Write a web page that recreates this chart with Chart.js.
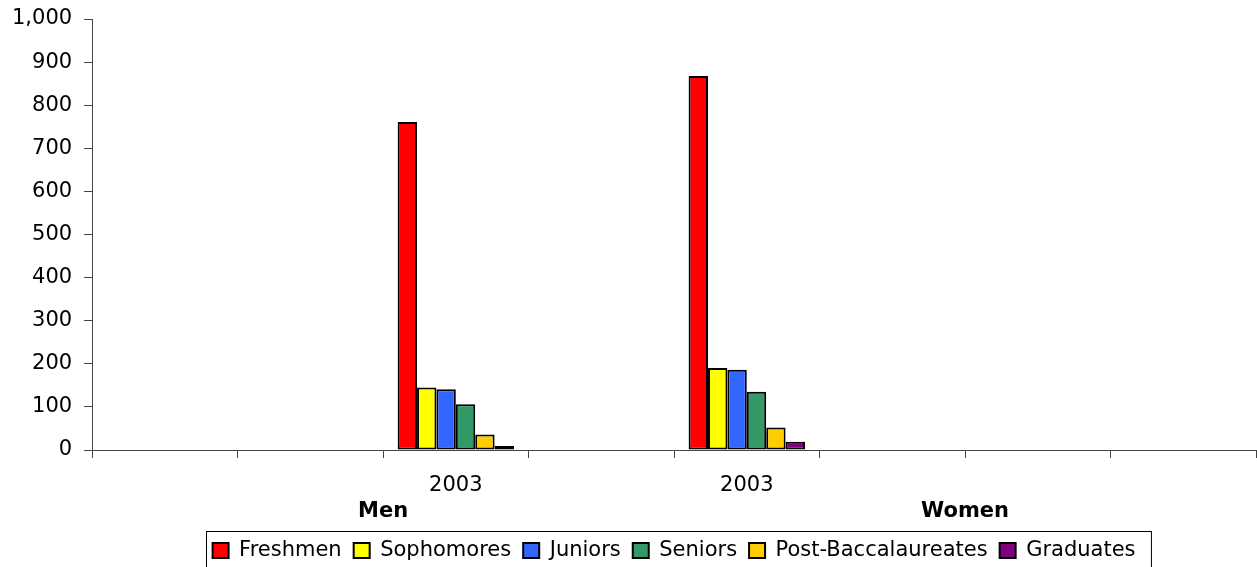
<!DOCTYPE html>
<html>
<head>
<meta charset="utf-8">
<script src="https://cdn.jsdelivr.net/npm/chart.js@4"></script>
<style>
  html, body { margin: 0; padding: 0; background: #fff; }
  #wrap { width: 1257px; height: 567px; }
</style>
</head>
<body>
<div id="wrap"><canvas id="myChart"></canvas></div>
<script>
// eight slots: four under Men, four under Women; only 2003 has data
const categories = ['', '', '2003', '', '2003', '', '', ''];
const groups = ['Men', 'Women'];
const yTicks = [0, 100, 200, 300, 400, 500, 600, 700, 800, 900, 1000];

const freshmen   = [null, null, 761, null, 868, null, null, null];
const sophomores = [null, null, 145, null, 190, null, null, null];
const juniors    = [null, null, 141, null, 186, null, null, null];
const seniors    = [null, null, 106, null, 135, null, null, null];
const postBacc   = [null, null, 36,  null, 52,  null, null, null];
const graduates  = [null, null, 9,   null, 19,  null, null, null];

const FONT = '"DejaVu Sans", "Liberation Sans", Arial, sans-serif';

// legend sits centred under the plot area, in a thin box cut by the bottom edge
const legendBox = {
  id: 'legendBox',
  afterLayout(chart) {
    const lg = chart.legend;
    const a = chart.chartArea;
    const shift = (a.left + a.right) / 2 - (lg.left + lg.right) / 2;
    lg.left += shift;
    lg.right += shift;
    lg.top += 4;
    lg.bottom += 4;
  },
  afterDraw(chart) {
    const hb = chart.legend.legendHitBoxes;
    if (!hb || !hb.length) return;
    let l = Infinity, r = -Infinity, t = Infinity;
    hb.forEach(h => {
      l = Math.min(l, h.left); r = Math.max(r, h.left + h.width);
      t = Math.min(t, h.top);
    });
    const c = chart.ctx;
    c.save();
    c.strokeStyle = '#000';
    c.lineWidth = 1;
    c.strokeRect(Math.round(l) - 6.5, Math.round(t) - 8.5, (r - l) + 22, 60);
    c.restore();
  }
};

const ctx = document.getElementById('myChart').getContext('2d');

const mk = (label, data, color) => ({
  label, data,
  backgroundColor: color,
  borderColor: '#000',
  borderWidth: 2,
  borderSkipped: false,
  categoryPercentage: 0.8,
  barPercentage: 1.0
});

const myChart = new Chart(ctx, {
  type: 'bar',
  data: {
    labels: categories,
    datasets: [
      mk('Freshmen', freshmen, '#FF0000'),
      mk('Sophomores', sophomores, '#FFFF00'),
      mk('Juniors', juniors, '#3366FF'),
      mk('Seniors', seniors, '#339966'),
      mk('Post-Baccalaureates', postBacc, '#FFCC00'),
      mk('Graduates', graduates, '#800080')
    ]
  },
  plugins: [legendBox],
  options: {
    responsive: true,
    maintainAspectRatio: false,
    animation: false,
    layout: { padding: { top: 0, right: 1, left: 0, bottom: 0 } },
    scales: {
      y: {
        min: 0,
        max: 1000,
        afterBuildTicks: axis => { axis.ticks = yTicks.map(v => ({ value: v })); },
        afterFit: axis => { axis.paddingTop = 19; axis.paddingBottom = 0; },
        grid: {
          display: true,
          drawOnChartArea: false,
          tickLength: 8,
          color: '#444',
          lineWidth: 1
        },
        border: { display: true, color: '#444', width: 1 },
        ticks: {
          color: '#000',
          padding: 12,
          font: { family: FONT, size: 21 }
        }
      },
      x: {
        afterFit: axis => { axis.height = 41; },
        grid: {
          display: true,
          drawOnChartArea: false,
          offset: true,
          tickLength: 8,
          color: '#444'
        },
        border: { display: true, color: '#444', width: 1 },
        ticks: {
          color: '#000',
          padding: 15,
          maxRotation: 0,
          autoSkip: false,
          font: { family: FONT, size: 21 }
        }
      },
      x2: {
        type: 'category',
        position: 'bottom',
        labels: groups,
        offset: true,
        afterFit: axis => { axis.height = 33; },
        grid: { display: false },
        border: { display: false },
        ticks: {
          color: '#000',
          padding: 0,
          font: { family: FONT, size: 21, weight: 'bold' }
        }
      }
    },
    plugins: {
      legend: {
        display: true,
        position: 'bottom',
        labels: {
          color: '#000',
          boxWidth: 16,
          boxHeight: 15,
          padding: 12,
          font: { family: FONT, size: 21 }
        }
      },
      tooltip: { enabled: false }
    }
  }
});
</script>
</body>
</html>
